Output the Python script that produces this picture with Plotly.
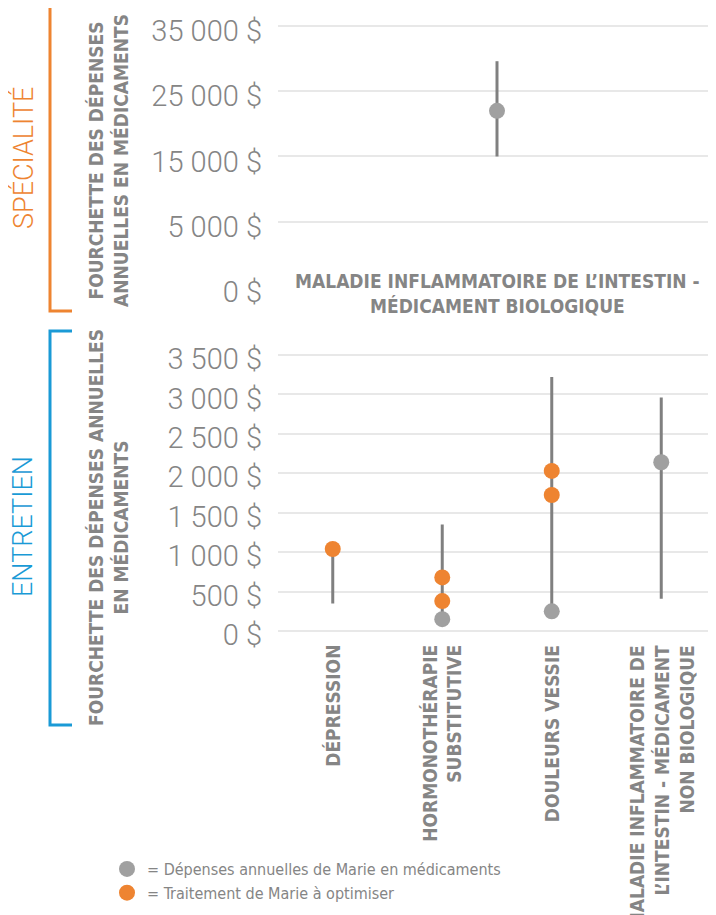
import plotly.graph_objects as go

# ---------------------------------------------------------------------------
# Données
# ---------------------------------------------------------------------------

# panneau du haut : médicaments de spécialité
spec_categories = ["MALADIE INFLAMMATOIRE DE L’INTESTIN -<br>MÉDICAMENT BIOLOGIQUE"]
spec_low = [15000]
spec_high = [29600]
spec_marie = [22000]
spec_tickvals = [-5000, 5000, 15000, 25000, 35000]
spec_ticktext = ["0 $", "5 000 $", "15 000 $", "25 000 $", "35 000 $"]

# panneau du bas : médicaments d'entretien
ent_categories = [
    "DÉPRESSION",
    "HORMONOTHÉRAPIE<br>SUBSTITUTIVE",
    "DOULEURS VESSIE",
    "MALADIE INFLAMMATOIRE DE<br>L’INTESTIN - MÉDICAMENT<br>NON BIOLOGIQUE",
]
ent_low = [350, 150, 250, 410]
ent_high = [1040, 1350, 3220, 2960]
ent_marie = [None, 150, 250, 2140]
ent_optimiser = [[1040], [680, 380], [2030, 1725], []]
ent_tickvals = [0, 500, 1000, 1500, 2000, 2500, 3000, 3500]
ent_ticktext = ["0 $", "500 $", "1 000 $", "1 500 $", "2 000 $", "2 500 $", "3 000 $", "3 500 $"]

legend_marie = "= Dépenses annuelles de Marie en médicaments"
legend_optim = "= Traitement de Marie à optimiser"

# ---------------------------------------------------------------------------
# Style
# ---------------------------------------------------------------------------

# la page ajoute une marge de 8 px autour de la figure
OFF = 8
W, H = 716 - OFF, 915 - OFF
GREY_LINE = "#808080"
GREY_DOT = "#a0a0a0"
ORANGE = "#ee8431"
BLUE = "#1a9ad6"
GRID = "#e8e8e8"
TXT = "#858585"
NARROW = "Liberation Sans Narrow, Arial Narrow, DejaVu Sans Condensed, sans-serif"
LIGHT = "Roboto, Helvetica, Arial, sans-serif"


def px(x):
    return (x - OFF) / W


def py(y):
    return 1 - (y - OFF) / H


def segments(cats, low, high):
    xs, ys = [], []
    for c, lo, hi in zip(cats, low, high):
        xs += [c, c, None]
        ys += [lo, hi, None]
    return xs, ys


fig = go.Figure()

# --- haut ---
xs, ys = segments(spec_categories, spec_low, spec_high)
fig.add_trace(go.Scatter(x=xs, y=ys, mode="lines", line=dict(color=GREY_LINE, width=3),
                         xaxis="x", yaxis="y", showlegend=False, hoverinfo="skip"))
fig.add_trace(go.Scatter(x=spec_categories, y=spec_marie, mode="markers",
                         marker=dict(color=GREY_DOT, size=16), xaxis="x", yaxis="y",
                         showlegend=False, cliponaxis=False))

# --- bas ---
xs, ys = segments(ent_categories, ent_low, ent_high)
fig.add_trace(go.Scatter(x=xs, y=ys, mode="lines", line=dict(color=GREY_LINE, width=3),
                         xaxis="x2", yaxis="y2", showlegend=False, hoverinfo="skip"))

mx = [c for c, v in zip(ent_categories, ent_marie) if v is not None]
my = [v for v in ent_marie if v is not None]
fig.add_trace(go.Scatter(x=mx, y=my, mode="markers", name=legend_marie,
                         marker=dict(color=GREY_DOT, size=16), xaxis="x2", yaxis="y2",
                         cliponaxis=False))

ox, oy = [], []
for c, vals in zip(ent_categories, ent_optimiser):
    for v in vals:
        ox.append(c)
        oy.append(v)
fig.add_trace(go.Scatter(x=ox, y=oy, mode="markers", name=legend_optim,
                         marker=dict(color=ORANGE, size=16), xaxis="x2", yaxis="y2",
                         cliponaxis=False))

x_dom = [px(278), 1]
tick_font = dict(family=LIGHT, size=29, color=TXT, weight=300)
bold_font = dict(family=NARROW, size=19, color=TXT, weight="bold")

fig.update_layout(
    width=W, height=H,
    margin=dict(l=0, r=0, t=0, b=0, autoexpand=False),
    paper_bgcolor="white", plot_bgcolor="white",
    xaxis=dict(domain=x_dom, anchor="y", type="category", showticklabels=False,
               range=[-0.5, 0.5],
               showgrid=False, zeroline=False, showline=True, linecolor="white",
               linewidth=4, ticks="", automargin=False),
    yaxis=dict(domain=[py(287), py(24)], anchor="x", range=[-5000, 35300],
               tickvals=spec_tickvals, ticktext=spec_ticktext, automargin=False,
               showgrid=True, gridcolor=GRID, gridwidth=2, zeroline=False,
               tickfont=tick_font, ticklabelstandoff=15, ticklabelshift=5),
    xaxis2=dict(domain=x_dom, anchor="y2", type="category", showgrid=False,
                range=[-0.5, len(ent_categories) - 0.5],
                zeroline=False, showline=False, ticks="", showticklabels=False,
                automargin=False),
    yaxis2=dict(domain=[py(633.4), py(352.6)], anchor="x2", range=[-30, 3530],
                tickvals=ent_tickvals, ticktext=ent_ticktext, automargin=False,
                showgrid=True, gridcolor=GRID, gridwidth=2, zeroline=False,
                tickfont=tick_font, ticklabelstandoff=15, ticklabelshift=4),
    legend=dict(x=px(107), y=py(852), xanchor="left", yanchor="top",
                font=dict(family=NARROW, size=16, color=TXT),
                tracegroupgap=0, bgcolor="rgba(0,0,0,0)"),
    showlegend=True,
)

annotations = [
    dict(x=spec_categories[0], xref="x", y=py(293), yref="paper", yanchor="middle",
         text=spec_categories[0], showarrow=False, font=bold_font),
    dict(x=px(108), y=py(161), xref="paper", yref="paper", textangle=-90,
         xanchor="center", yanchor="middle",
         text="FOURCHETTE DES DÉPENSES<br>ANNUELLES EN MÉDICAMENTS", showarrow=False,
         font=bold_font),
    dict(x=px(108), y=py(528), xref="paper", yref="paper", textangle=-90,
         xanchor="center", yanchor="middle",
         text="FOURCHETTE DES DÉPENSES ANNUELLES<br>EN MÉDICAMENTS", showarrow=False,
         font=bold_font),
    dict(x=px(23), y=py(158), xref="paper", yref="paper", textangle=-90,
         xanchor="center", yanchor="middle",
         text="SPÉCIALITÉ", showarrow=False,
         font=dict(family=LIGHT, size=27, color=ORANGE, weight=300)),
    dict(x=px(23), y=py(527), xref="paper", yref="paper", textangle=-90,
         xanchor="center", yanchor="middle",
         text="ENTRETIEN", showarrow=False,
         font=dict(family=LIGHT, size=27, color=BLUE, weight=300)),
]

# étiquettes des catégories du bas, pivotées
for cat in ent_categories:
    annotations.append(dict(x=cat, xref="x2", y=py(643), yref="paper",
                            xanchor="center", yanchor="top", textangle=-90,
                            align="right", text=cat, showarrow=False, font=bold_font))

fig.update_layout(annotations=annotations)


def bracket(y0, y1, color):
    path = (f"M {px(72)},{py(y0)} L {px(50)},{py(y0)} "
            f"L {px(50)},{py(y1)} L {px(72)},{py(y1)}")
    return dict(type="path", xref="paper", yref="paper", path=path,
                line=dict(color=color, width=3))


fig.update_layout(shapes=[bracket(6, 311, ORANGE), bracket(331, 725, BLUE)])

fig.write_html("out.html")
